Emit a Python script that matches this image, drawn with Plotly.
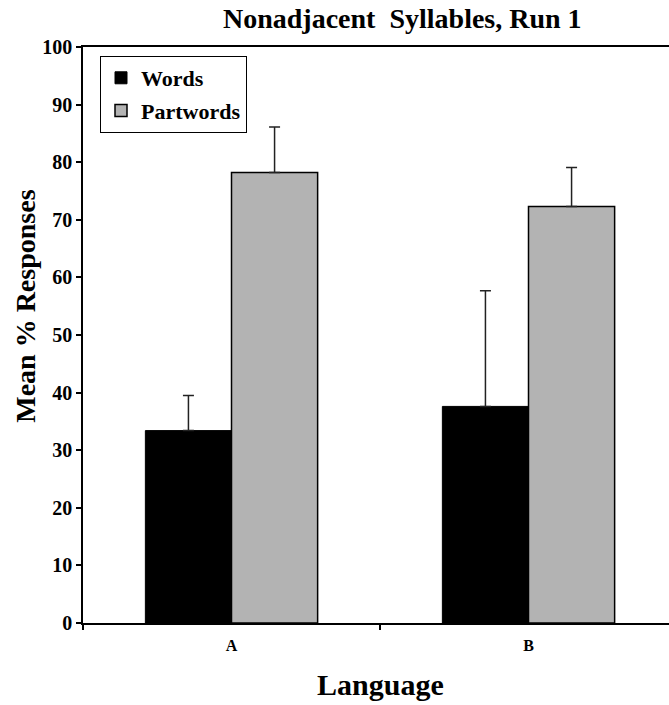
import plotly.graph_objects as go

categories = ["A", "B"]
words = [33.4, 37.6]
words_err = [6.1, 20.1]
partwords = [78.2, 72.3]
partwords_err = [7.9, 6.8]
y_ticks = [0, 10, 20, 30, 40, 50, 60, 70, 80, 90, 100]

FONT = "Liberation Serif"
L, T, B_PIX, R_PIX = 83, 47, 623.5, 669
W, H = 669, 705

def px_x(p):
    return (p - L) / (R_PIX - L)

def px_y(p):
    return (B_PIX - p) / (B_PIX - T)

fig = go.Figure()
fig.add_trace(go.Bar(
    name="<b>Words</b>", x=categories, y=words, legendgroup="w",
    marker=dict(color="black", line=dict(color="black", width=1)),
    error_y=dict(type="data", array=words_err, arrayminus=[0, 0], symmetric=False,
                 color="#222", thickness=1.5, width=5.5),
))
fig.add_trace(go.Bar(
    name="<b>Partwords</b>", x=categories, y=partwords, legendgroup="p",
    marker=dict(color="#b3b3b3", line=dict(color="black", width=1.5)),
    error_y=dict(type="data", array=partwords_err, arrayminus=[0, 0], symmetric=False,
                 color="#222", thickness=1.5, width=5.5),
))

fig.update_layout(
    width=W, height=H,
    margin=dict(l=L, r=W - R_PIX, t=T, b=H - B_PIX),
    paper_bgcolor="white", plot_bgcolor="white",
    barmode="group", bargap=0.42, bargroupgap=0,
    showlegend=True,
    legend=dict(x=px_x(100), y=px_y(56), xanchor="left", yanchor="top",
                bordercolor="black", borderwidth=1, bgcolor="white",
                font=dict(family=FONT, size=22, color="black"),
                traceorder="grouped", tracegroupgap=1),
    font=dict(family=FONT, color="black"),
)
fig.update_xaxes(
    type="category", range=[-0.5, -0.5 + (R_PIX - L) / 297.0],
    tickson="boundaries", ticks="outside", ticklen=5, tickwidth=1.5, tickcolor="black",
    showline=True, linecolor="black", linewidth=1.5, mirror=True,
    showgrid=False, zeroline=False,
    tickfont=dict(family=FONT, size=16, color="black", weight="bold"),
    ticklabelstandoff=7,
)
fig.update_yaxes(
    range=[0, 100], tickvals=y_ticks, ticks="outside", ticklen=5, tickwidth=1.5,
    tickcolor="black", showline=True, linecolor="black", linewidth=1.5,
    showgrid=False, zeroline=False,
    tickfont=dict(family=FONT, size=20, color="black", weight="bold"),
)

fig.add_annotation(text="<b>Nonadjacent\u00a0 Syllables, Run 1</b>", xref="paper", yref="paper",
                   x=px_x(402), y=px_y(18), xanchor="center", yanchor="middle",
                   showarrow=False, font=dict(family=FONT, size=28, color="black"))
fig.add_annotation(text="<b>Language</b>", xref="paper", yref="paper",
                   x=px_x(380), y=px_y(685), xanchor="center", yanchor="middle",
                   showarrow=False, font=dict(family=FONT, size=30, color="black"))
fig.add_annotation(text="<b>Mean % Responses</b>", xref="paper", yref="paper",
                   x=px_x(26), y=px_y(307), xanchor="center", yanchor="middle",
                   textangle=-90, showarrow=False, font=dict(family=FONT, size=28, color="black"))

fig.write_html("out.html", config={"displayModeBar": False},
               post_script="document.body.style.margin='0';document.body.style.overflow='hidden';")
